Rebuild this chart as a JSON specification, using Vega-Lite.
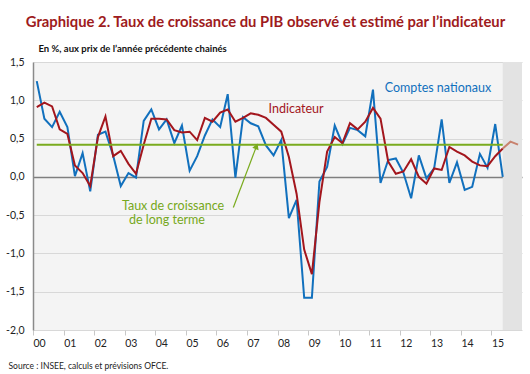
{
  "$schema": "https://vega.github.io/schema/vega-lite/v6.json",
  "width": 489,
  "height": 268,
  "autosize": {"type": "none"},
  "padding": {"left": 33, "top": 62, "right": 8, "bottom": 44},
  "background": "white",
  "view": {"fill": "#f4f4f4", "stroke": null},
  "config": {"font": "Lato"},
  "title": {
    "text": "Graphique 2. Taux de croissance du PIB observé et estimé par l’indicateur",
    "anchor": "middle",
    "dx": -12,
    "offset": 13,
    "font": "Lato",
    "fontSize": 14.8,
    "fontWeight": "bold",
    "color": "#9e1b20"
  },
  "datasets": {
    "pib": [
      {"d": "2000-02-15", "cn": 1.25, "ind": 0.91},
      {"d": "2000-05-16", "cn": 0.76, "ind": 0.97},
      {"d": "2000-08-16", "cn": 0.65, "ind": 0.92},
      {"d": "2000-11-15", "cn": 0.85, "ind": 0.62},
      {"d": "2001-02-15", "cn": 0.65, "ind": 0.56},
      {"d": "2001-05-16", "cn": 0.01, "ind": 0.15},
      {"d": "2001-08-16", "cn": 0.31, "ind": 0.05},
      {"d": "2001-11-15", "cn": -0.19, "ind": -0.12},
      {"d": "2002-02-15", "cn": 0.55, "ind": 0.52},
      {"d": "2002-05-16", "cn": 0.59, "ind": 0.79},
      {"d": "2002-08-16", "cn": 0.28, "ind": 0.27},
      {"d": "2002-11-15", "cn": -0.12, "ind": 0.34},
      {"d": "2003-02-15", "cn": 0.05, "ind": 0.17},
      {"d": "2003-05-16", "cn": -0.01, "ind": 0.04},
      {"d": "2003-08-16", "cn": 0.73, "ind": 0.42},
      {"d": "2003-11-15", "cn": 0.88, "ind": 0.76},
      {"d": "2004-02-15", "cn": 0.62, "ind": 0.76},
      {"d": "2004-05-16", "cn": 0.75, "ind": 0.75},
      {"d": "2004-08-16", "cn": 0.44, "ind": 0.61},
      {"d": "2004-11-15", "cn": 0.67, "ind": 0.58},
      {"d": "2005-02-15", "cn": 0.08, "ind": 0.59},
      {"d": "2005-05-16", "cn": 0.27, "ind": 0.48},
      {"d": "2005-08-16", "cn": 0.54, "ind": 0.77},
      {"d": "2005-11-15", "cn": 0.75, "ind": 0.72},
      {"d": "2006-02-15", "cn": 0.65, "ind": 0.84},
      {"d": "2006-05-16", "cn": 1.08, "ind": 0.88},
      {"d": "2006-08-16", "cn": -0.01, "ind": 0.72},
      {"d": "2006-11-15", "cn": 0.78, "ind": 0.77},
      {"d": "2007-02-15", "cn": 0.70, "ind": 0.83},
      {"d": "2007-05-16", "cn": 0.66, "ind": 0.81},
      {"d": "2007-08-16", "cn": 0.41, "ind": 0.77},
      {"d": "2007-11-15", "cn": 0.28, "ind": 0.68},
      {"d": "2008-02-15", "cn": 0.48, "ind": 0.59},
      {"d": "2008-05-16", "cn": -0.54, "ind": 0.26},
      {"d": "2008-08-16", "cn": -0.30, "ind": -0.22},
      {"d": "2008-11-15", "cn": -1.58, "ind": -0.95},
      {"d": "2009-02-15", "cn": -1.58, "ind": -1.27},
      {"d": "2009-05-16", "cn": -0.06, "ind": -0.33},
      {"d": "2009-08-16", "cn": 0.13, "ind": 0.33},
      {"d": "2009-11-15", "cn": 0.67, "ind": 0.52},
      {"d": "2010-02-15", "cn": 0.43, "ind": 0.44},
      {"d": "2010-05-16", "cn": 0.64, "ind": 0.70},
      {"d": "2010-08-16", "cn": 0.61, "ind": 0.62},
      {"d": "2010-11-15", "cn": 0.53, "ind": 0.72},
      {"d": "2011-02-15", "cn": 1.14, "ind": 0.90},
      {"d": "2011-05-16", "cn": -0.08, "ind": 0.76},
      {"d": "2011-08-16", "cn": 0.22, "ind": 0.20},
      {"d": "2011-11-15", "cn": 0.24, "ind": 0.04},
      {"d": "2012-02-15", "cn": 0.05, "ind": 0.07},
      {"d": "2012-05-16", "cn": -0.28, "ind": 0.23},
      {"d": "2012-08-16", "cn": 0.28, "ind": 0.00},
      {"d": "2012-11-15", "cn": -0.02, "ind": -0.09},
      {"d": "2013-02-15", "cn": 0.11, "ind": 0.11},
      {"d": "2013-05-16", "cn": 0.75, "ind": 0.09},
      {"d": "2013-08-16", "cn": -0.08, "ind": 0.39},
      {"d": "2013-11-15", "cn": 0.19, "ind": 0.33},
      {"d": "2014-02-15", "cn": -0.17, "ind": 0.28},
      {"d": "2014-05-16", "cn": -0.13, "ind": 0.20},
      {"d": "2014-08-16", "cn": 0.30, "ind": 0.15},
      {"d": "2014-11-15", "cn": 0.12, "ind": 0.14},
      {"d": "2015-02-15", "cn": 0.69, "ind": 0.27},
      {"d": "2015-05-16", "cn": 0.00, "ind": 0.37, "prev": 0.37},
      {"d": "2015-08-16", "prev": 0.46},
      {"d": "2015-11-15", "prev": 0.42}
    ],
    "zone": [{"d": "2015-05-16", "d2": "2016-01-01", "v": 1.5, "v2": -2}],
    "lt": [{"d": "2000-02-15", "d2": "2015-05-16", "v": 0.42}],
    "arrow": [{"d": "2006-07-22", "d2": "2007-04-25", "v": -0.40, "v2": 0.40}],
    "tip": [{"d": "2007-04-25", "v": 0.40}],
    "ann": [
      {"d": "2013-04-01", "v": 1.16, "s": "cn", "label": "Comptes nationaux"},
      {"d": "2008-08-10", "v": 0.89, "s": "ind", "label": "Indicateur"},
      {"d": "2004-08-01", "v": -0.38, "s": "lt", "label": "Taux de croissance"},
      {"d": "2004-05-20", "v": -0.56, "s": "lt", "label": "de long terme"}
    ]
  },
  "encoding": {
    "x": {
      "field": "d",
      "type": "temporal",
      "scale": {
        "type": "utc",
        "domain": [
          {"year": 2000, "month": 1, "date": 1, "utc": true},
          {"year": 2016, "month": 1, "date": 1, "utc": true}
        ]
      },
      "axis": {
        "values": [
          {"year": 2000, "month": 1, "date": 1, "utc": true},
          {"year": 2001, "month": 1, "date": 1, "utc": true},
          {"year": 2002, "month": 1, "date": 1, "utc": true},
          {"year": 2003, "month": 1, "date": 1, "utc": true},
          {"year": 2004, "month": 1, "date": 1, "utc": true},
          {"year": 2005, "month": 1, "date": 1, "utc": true},
          {"year": 2006, "month": 1, "date": 1, "utc": true},
          {"year": 2007, "month": 1, "date": 1, "utc": true},
          {"year": 2008, "month": 1, "date": 1, "utc": true},
          {"year": 2009, "month": 1, "date": 1, "utc": true},
          {"year": 2010, "month": 1, "date": 1, "utc": true},
          {"year": 2011, "month": 1, "date": 1, "utc": true},
          {"year": 2012, "month": 1, "date": 1, "utc": true},
          {"year": 2013, "month": 1, "date": 1, "utc": true},
          {"year": 2014, "month": 1, "date": 1, "utc": true},
          {"year": 2015, "month": 1, "date": 1, "utc": true}
        ],
        "labelExpr": "utcFormat(datum.value, '%y')",
        "labelAlign": "left",
        "labelFlush": false,
        "labelOverlap": false,
        "labelFontSize": 10.5,
        "labelColor": "#222222",
        "labelPadding": 3,
        "tickSize": 5,
        "tickColor": "#c8c8c8",
        "domain": false,
        "grid": false,
        "title": "Source : INSEE, calculs et prévisions OFCE.",
        "titleX": -25,
        "titleY": 38,
        "titleAlign": "left",
        "titleBaseline": "alphabetic",
        "titleFontSize": 8.5,
        "titleFontWeight": "normal",
        "titleColor": "#222222"
      }
    },
    "y": {
      "field": "v",
      "type": "quantitative",
      "scale": {"domain": [-2, 1.5], "nice": false, "zero": false},
      "axis": {
        "values": [-2, -1.5, -1, -0.5, 0, 0.5, 1, 1.5],
        "labelExpr": "replace(replace(format(datum.value, '.1f'), '.', ','), '\u2212', '-')",
        "labelOverlap": false,
        "ticks": false,
        "labelPadding": 9,
        "labelFontSize": 10.5,
        "labelColor": "#222222",
        "domainColor": "#8a8a8a",
        "domainWidth": 1.5,
        "gridColor": {"condition": {"test": "datum.value === 0", "value": "#7f7f7f"}, "value": "#d8d8d8"},
        "gridWidth": {"condition": {"test": "datum.value === 0", "value": 1.3}, "value": 1},
        "title": "En %, aux prix de l’année précédente chainés",
        "titleAngle": 0,
        "titleAlign": "left",
        "titleBaseline": "alphabetic",
        "titleX": 5,
        "titleY": -11,
        "titleFontSize": 9.5,
        "titleFontWeight": "bold",
        "titleColor": "#111111"
      }
    }
  },
  "layer": [
    {
      "data": {"name": "zone"},
      "mark": {"type": "rect", "color": "#e3e3e3"},
      "encoding": {
        "x2": {"field": "d2"},
        "y2": {"field": "v2"}
      }
    },
    {
      "data": {"name": "pib"},
      "transform": [
        {"fold": ["cn", "ind", "prev"], "as": ["s", "v"]},
        {"filter": "isValid(datum.v)"}
      ],
      "mark": {"type": "line", "strokeWidth": 2},
      "encoding": {
        "color": {
          "field": "s",
          "type": "nominal",
          "scale": {"domain": ["cn", "ind", "prev", "lt"], "range": ["#1170bd", "#a3161d", "#c8826e", "#76a820"]},
          "legend": null
        }
      }
    },
    {
      "data": {"name": "lt"},
      "mark": {"type": "rule", "color": "#7aab1e", "strokeWidth": 2},
      "encoding": {
        "x2": {"field": "d2"}
      }
    },
    {
      "data": {"name": "arrow"},
      "mark": {"type": "rule", "color": "#7aab1e", "strokeWidth": 1.2},
      "encoding": {
        "x2": {"field": "d2"},
        "y2": {"field": "v2"}
      }
    },
    {
      "data": {"name": "tip"},
      "mark": {"type": "point", "shape": "triangle-up", "filled": true, "color": "#7aab1e", "size": 45, "angle": 21, "opacity": 1}
    },
    {
      "data": {"name": "ann"},
      "mark": {"type": "text", "fontSize": 12.5, "align": "center", "baseline": "middle"},
      "encoding": {
        "text": {"field": "label"},
        "color": {"field": "s", "type": "nominal", "legend": null}
      }
    }
  ]
}
